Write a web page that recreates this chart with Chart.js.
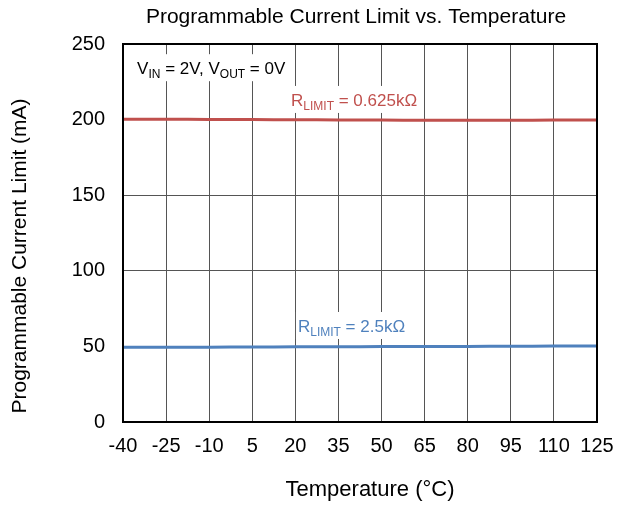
<!DOCTYPE html>
<html>
<head>
<meta charset="utf-8">
<script src="https://cdn.jsdelivr.net/npm/chart.js@4/dist/chart.umd.min.js"></script>
<style>
  html, body { margin: 0; padding: 0; background: #fff; }
  #wrap { width: 626px; height: 505px; }
</style>
</head>
<body>
<div id="wrap"><canvas id="c" width="626" height="505"></canvas></div>
<script>
const temps = [-40, -25, -10, 5, 20, 35, 50, 65, 80, 95, 110, 125];
const limit625 = [200.3, 200.2, 200.1, 200.0, 199.9, 199.8, 199.7, 199.6, 199.6, 199.6, 199.7, 199.7];
const limit2k5 = [49.4, 49.5, 49.5, 49.6, 49.7, 49.8, 49.9, 50.0, 50.0, 50.1, 50.2, 50.3];
const xTicks = temps;
const yTicks = [0, 50, 100, 150, 200, 250];

const FONT = 'Arial, "Liberation Sans", sans-serif';
const chartTitle = 'Programmable Current Limit vs. Temperature';
const xTitle = 'Temperature (\u00B0C)';
const yTitle = 'Programmable Current Limit (mA)';

// label pieces: [text, isSubscript]
const labels = [
  { x: -35.1, y: 234, color: '#000', parts: [['V', 0], ['IN', 1], [' = 2V, V', 0], ['OUT', 1], [' = 0V', 0]] },
  { x: 18.5, y: 213, color: '#C0504D', parts: [['R', 0], ['LIMIT', 1], [' = 0.625k\u03A9', 0]] },
  { x: 20.9, y: 63.5, color: '#4F81BD', parts: [['R', 0], ['LIMIT', 1], [' = 2.5k\u03A9', 0]] }
];

const labelPlugin = {
  id: 'labels',
  afterDatasetsDraw(chart) {
    const { ctx, scales } = chart;
    ctx.save();
    ctx.textBaseline = 'alphabetic';
    labels.forEach(l => {
      const px = scales.x.getPixelForValue(l.x);
      const py = scales.y.getPixelForValue(l.y);
      let w = 0;
      l.parts.forEach(([t, sub]) => {
        ctx.font = (sub ? '12px ' : '17px ') + FONT;
        w += ctx.measureText(t).width;
      });
      ctx.fillStyle = '#fff';
      ctx.fillRect(px - 2, py - 14, w + 4, 27);
      let cx = px;
      const base = py + 6;
      l.parts.forEach(([t, sub]) => {
        ctx.font = (sub ? '12px ' : '17px ') + FONT;
        ctx.fillStyle = l.color;
        ctx.fillText(t, cx, sub ? base + 4 : base);
        cx += ctx.measureText(t).width;
      });
    });
    ctx.restore();
  }
};

// titles drawn by hand so they can sit where the original puts them
const titlePlugin = {
  id: 'titles',
  afterDraw(chart) {
    const { ctx, chartArea: a } = chart;
    ctx.save();
    ctx.fillStyle = '#000';
    ctx.textAlign = 'center';
    ctx.textBaseline = 'middle';
    ctx.font = '21px ' + FONT;
    ctx.fillText(chartTitle, (a.left + a.right) / 2 - 4, 17);
    ctx.font = '22px ' + FONT;
    ctx.fillText(xTitle, (a.left + a.right) / 2 + 10, 490);
    ctx.translate(20, (a.top + a.bottom) / 2 + 23);
    ctx.rotate(-Math.PI / 2);
    ctx.font = '21px ' + FONT;
    ctx.fillText(yTitle, 0, 0);
    ctx.restore();
  }
};

new Chart(document.getElementById('c'), {
  type: 'scatter',
  data: {
    datasets: [
      {
        label: 'RLIMIT = 0.625kΩ',
        data: temps.map((t, i) => ({ x: t, y: limit625[i] })),
        showLine: true,
        borderColor: '#C0504D',
        borderWidth: 3,
        pointRadius: 0,
        tension: 0.3
      },
      {
        label: 'RLIMIT = 2.5kΩ',
        data: temps.map((t, i) => ({ x: t, y: limit2k5[i] })),
        showLine: true,
        borderColor: '#4F81BD',
        borderWidth: 3,
        pointRadius: 0,
        tension: 0.3
      }
    ]
  },
  options: {
    responsive: false,
    animation: false,
    layout: { padding: { left: 0, right: 29, top: 44, bottom: 0 } },
    plugins: {
      legend: { display: false },
      tooltip: { enabled: false },
      title: { display: false }
    },
    scales: {
      x: {
        type: 'linear',
        min: -40,
        max: 125,
        afterBuildTicks(axis) { axis.ticks = xTicks.map(v => ({ value: v })); },
        afterFit(axis) { axis.height = 83; },
        grid: { color: '#555', lineWidth: 1, drawTicks: false },
        border: { color: '#000', width: 2 },
        ticks: { color: '#000', font: { family: FONT, size: 20 }, padding: 12, maxRotation: 0, autoSkip: false }
      },
      y: {
        min: 0,
        max: 250,
        afterBuildTicks(axis) { axis.ticks = yTicks.map(v => ({ value: v })); },
        afterFit(axis) { axis.width = 123; },
        grid: { color: '#555', lineWidth: 1, drawTicks: false },
        border: { color: '#000', width: 2 },
        ticks: { color: '#000', font: { family: FONT, size: 20 }, padding: 18 }
      }
    }
  },
  plugins: [labelPlugin, titlePlugin, {
    id: 'frame',
    afterDraw(chart) {
      const { ctx, chartArea: a } = chart;
      ctx.save();
      ctx.strokeStyle = '#000';
      ctx.lineWidth = 2;
      ctx.strokeRect(a.left, a.top, a.right - a.left, a.bottom - a.top);
      ctx.restore();
    }
  }]
});
</script>
</body>
</html>
